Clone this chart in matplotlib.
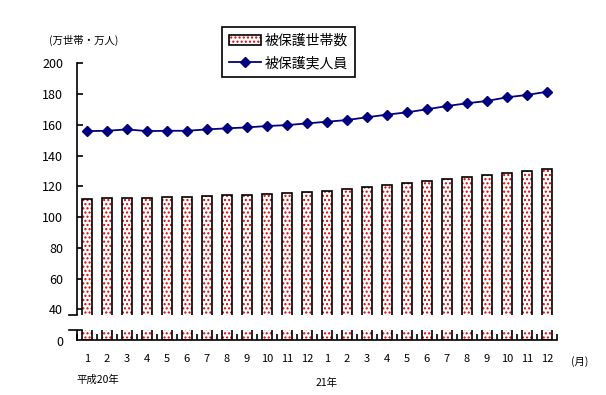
import matplotlib
matplotlib.use('Agg')
import matplotlib.pyplot as plt
from matplotlib.patches import Rectangle
from matplotlib.legend_handler import HandlerTuple
import numpy as np

plt.rcParams['font.family'] = ['Noto Sans CJK JP', 'DejaVu Sans']
plt.rcParams['hatch.linewidth'] = 1.0

# month labels (H20 Jan .. H21 Dec)
months = [str(m) for m in range(1, 13)] * 2

# 被保護世帯数 (万世帯)
households = [111.5, 112.1, 112.1, 112.1, 112.8, 112.8, 113.4, 114.2, 114.3, 114.9,
              115.6, 116.0, 116.7, 118.0, 119.3, 120.6, 121.9, 123.4, 124.7, 126.0,
              127.3, 128.6, 129.9, 131.2]

# 被保護実人員 (万人)
persons = [155.9, 156.1, 157.0, 155.9, 156.1, 156.1, 157.0, 157.7, 158.3, 159.2,
           159.8, 160.9, 162.0, 163.1, 164.9, 166.6, 168.1, 170.1, 172.2, 174.0,
           175.5, 177.9, 179.4, 181.5]

ytick_vals = [40, 60, 80, 100, 120, 140, 160, 180, 200]

# axis is broken: real bottom is 20, shown as "0"
Y_BOTTOM = 20
GAP_LO, GAP_HI = 26.4, 36.1

fig = plt.figure(figsize=(6.06, 3.95), dpi=100)
ax = fig.add_axes([77/606, 55/395, 480/606, 276.7/395])

x = np.arange(len(months))
width = 0.47

# dotted fill (red dots on white) then black outline
fill = ax.bar(x, np.array(households) - Y_BOTTOM, width, bottom=Y_BOTTOM,
              color='white', edgecolor='#e00000', hatch='....', linewidth=0, zorder=2)
edge = ax.bar(x, np.array(households) - Y_BOTTOM, width, bottom=Y_BOTTOM,
              color='none', edgecolor='black', linewidth=1.2, zorder=2)

line, = ax.plot(x, persons, color='#000080', linewidth=1.3, marker='D',
                markersize=4.8, zorder=4)

ax.set_xlim(-0.5, len(months) - 0.5)
ax.set_ylim(Y_BOTTOM, 200)

for s in ['top', 'right']:
    ax.spines[s].set_visible(False)
ax.spines['left'].set_linewidth(1.2)
ax.spines['bottom'].set_linewidth(1.2)

ax.set_yticks(ytick_vals)
ax.set_yticklabels([str(v) for v in ytick_vals])
ax.tick_params(axis='y', direction='in', length=4, width=1.2, pad=10, labelsize=9)

ax.set_xticks(x)
ax.set_xticklabels(months)
ax.tick_params(axis='x', which='major', length=0, pad=10, labelsize=8)
ax.set_xticks(np.arange(-0.5, len(months) + 0.5, 1), minor=True)
ax.tick_params(axis='x', which='minor', direction='in', length=4, width=1.2)

# axis break
trans = ax.get_yaxis_transform()
ax.add_patch(Rectangle((-0.03, GAP_LO), 1.05, GAP_HI - GAP_LO, transform=trans,
                       facecolor='white', edgecolor='none', zorder=3, clip_on=False))
ax.plot([-8/480, 0], [GAP_HI, GAP_HI], transform=trans, color='black',
        linewidth=1.2, clip_on=False, zorder=5)
ax.plot([-8/480, 5/480], [GAP_LO, GAP_LO], transform=trans, color='black',
        linewidth=1.2, clip_on=False, zorder=5)
ax.text(-14/480, Y_BOTTOM - 1.5, '0', transform=trans, ha='right', va='center',
        fontsize=9)

# extra labels
fig.text(84/606, 1 - 40/395, '(万世帯・万人)', ha='center', va='center', fontsize=7.5)
fig.text(580/606, 1 - 362/395, '(月)', ha='center', va='center', fontsize=7.5)
fig.text(98/606, 1 - 380/395, '平成20年', ha='center', va='center', fontsize=7.5)
fig.text(327/606, 1 - 383/395, '21年', ha='center', va='center', fontsize=7.5)

leg = fig.legend([(fill[0], edge[0]), line], ['被保護世帯数', '被保護実人員'],
                 handler_map={tuple: HandlerTuple(ndivide=1)},
                 loc='upper left', bbox_to_anchor=(222/606, 1 - 27/395),
                 borderaxespad=0,
                 fontsize=10, frameon=True, fancybox=False, edgecolor='black',
                 framealpha=1, borderpad=0.5, labelspacing=0.6, handlelength=2.3,
                 handletextpad=0.3)
leg.get_frame().set_linewidth(1.2)

fig.savefig('out.png', dpi=100, facecolor='white')
